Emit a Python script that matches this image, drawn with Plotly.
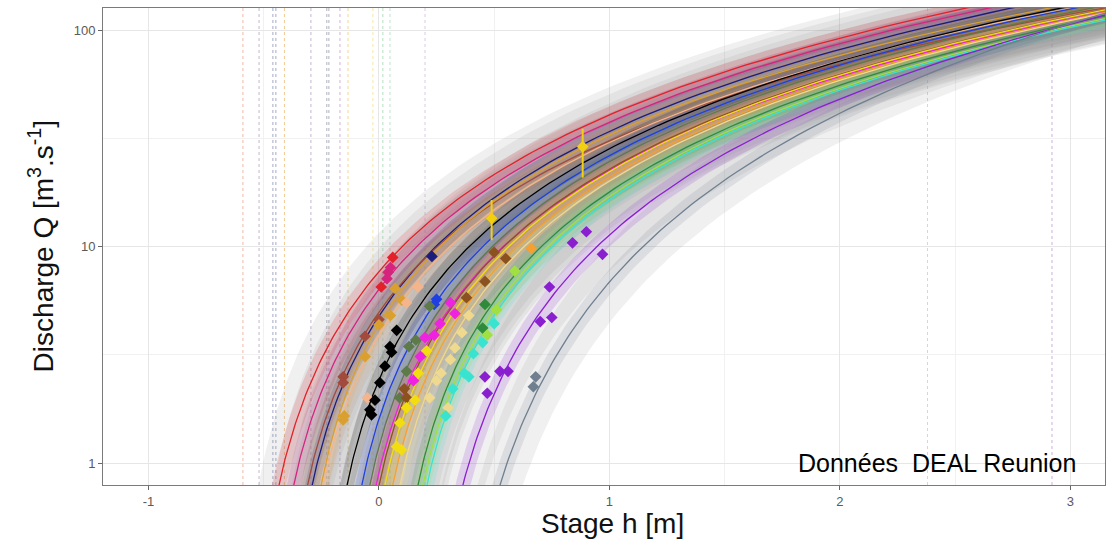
import numpy as np
import plotly.graph_objects as go

# ---- Rating curves Q = a * (h - b)^c, one per gauging station ----
curve_colors = ["#e3212b", "#d6247e", "#1c1c7c", "#a24a3c", "#d9a030", "#f4b48c",
                "#000000", "#1f3fe0", "#5e7a48", "#ee22e0", "#8b5220", "#f2de10",
                "#f5a030", "#efd98e", "#2e8b3a", "#a0e040", "#38e4d0", "#8a1fd0",
                "#6f7f8f"]
curve_a = [18.8, 18.9, 18.7, 17.4, 20.0, 17.95, 19.1, 19.4, 19.0, 17.9, 18.5, 18.7,
           18.5, 18.6, 18.8, 18.5, 18.4, 15.9, 12.9]
curve_b = [-0.584, -0.516, -0.437, -0.446, -0.375, -0.385, -0.277, -0.21, -0.177,
           -0.155, -0.139, -0.113, -0.080, -0.048, 0.031, 0.051, 0.068, 0.17, 0.26]
curve_c = [1.67, 1.65, 1.65, 1.55, 1.55, 1.6, 1.61, 1.6, 1.6, 1.6, 1.6, 1.6,
           1.6, 1.6, 1.6, 1.6, 1.6, 1.83, 2.1]

# ---- Gaugings (stage h [m], discharge Q [m3/s]) per station ----
gauge_h = [
    [0.06, 0.01],
    [0.05, 0.04, 0.035],
    [0.23],
    [-0.155, -0.155, -0.06, 0.0],
    [0.07, 0.10, 0.05, 0.0, -0.06, -0.155, -0.15],
    [0.17, 0.12, -0.05],
    [0.077, 0.048, 0.055, 0.026, 0.004, -0.017, -0.039, -0.032],
    [0.25, 0.24],
    [0.22, 0.13, 0.16, 0.12, 0.09],
    [0.15, 0.18, 0.20, 0.24, 0.265, 0.31, 0.33],
    [0.50, 0.55, 0.46, 0.38, 0.11, 0.12],
    [0.207, 0.156, 0.091, 0.077, 0.098, 0.17, 0.12],
    [0.66],
    [0.25, 0.27, 0.31, 0.33, 0.36, 0.39, 0.22, 0.30],
    [0.46, 0.45],
    [0.59, 0.51, 0.47],
    [0.29, 0.32, 0.37, 0.39, 0.41, 0.45, 0.50],
    [0.46, 0.47, 0.525, 0.56, 0.70, 0.75, 0.74, 0.84, 0.90, 0.97],
    [0.68, 0.67],
]
gauge_q = [
    [8.9, 6.5],
    [8.0, 7.6, 7.1],
    [9.0],
    [2.5, 2.35, 3.85, 4.6],
    [6.4, 5.65, 4.8, 4.35, 3.1, 1.58, 1.65],
    [6.5, 5.5, 2.0],
    [4.1, 3.45, 3.25, 2.8, 2.35, 1.95, 1.76, 1.67],
    [5.7, 5.4],
    [5.3, 3.45, 3.7, 2.65, 2.0],
    [2.4, 3.1, 3.8, 3.9, 4.4, 5.5, 4.9],
    [9.4, 8.8, 6.9, 5.8, 2.2, 2.0],
    [3.3, 1.95, 1.53, 1.19, 1.15, 2.6, 1.8],
    [9.8],
    [2.4, 2.6, 3.0, 3.4, 4.0, 4.8, 2.0, 1.8],
    [5.4, 4.2],
    [7.7, 5.1, 3.9],
    [1.65, 2.2, 2.6, 2.5, 3.2, 3.6, 4.4],
    [2.5, 2.1, 2.65, 2.65, 4.5, 4.7, 6.5, 10.4, 11.7, 9.2],
    [2.5, 2.25],
]

# High-flow gaugings with their uncertainty intervals
flood_h = [0.489, 0.884]
flood_q = [13.5, 28.9]
flood_q_low = [10.7, 20.8]
flood_q_high = [16.4, 35.0]
flood_color = "#f2d010"

# Offset (activation stage) markers
offset_marks = [-0.59, -0.52, -0.46, -0.447, -0.41, -0.295, -0.226, -0.217, -0.169,
                -0.134, -0.026, 0.017, 0.048, 0.20, 2.38, 2.92]
offset_colors = ["#f0b8a8", "#c4b6d2", "#a4aac4", "#a4aac4", "#f2c890", "#c4b6d2",
                 "#b0b0be", "#b0b0be", "#d0b4dc", "#f2d890", "#f2eaa8", "#b4e0c2",
                 "#bce4cc", "#dcc8e4", "#dcd0e6", "#ccb0dc"]

# Uncertainty envelopes: stage shift [m] and relative discharge spread
total_shift, total_rel = 0.07, 0.25
param_shift, param_rel = 0.025, 0.07

H_MAX = 3.3


def rgba(hex_color, alpha):
    h = hex_color.lstrip("#")
    r, g, b = int(h[0:2], 16), int(h[2:4], 16), int(h[4:6], 16)
    return f"rgba({r},{g},{b},{alpha})"


def envelope(a, b, c, shift, rel):
    hu = (b - shift) + np.geomspace(1e-4, H_MAX - (b - shift), 260)
    qu = a * (hu - (b - shift)) ** c * (1 + rel)
    hl = (b + shift) + np.geomspace(1e-4, H_MAX - (b + shift), 260)
    ql = a * (hl - (b + shift)) ** c / (1 + rel)
    return np.concatenate([hu, hl[::-1]]), np.concatenate([qu, ql[::-1]])


fig = go.Figure()

# total uncertainty (grey)
for a, b, c in zip(curve_a, curve_b, curve_c):
    x, y = envelope(a, b, c, total_shift, total_rel)
    fig.add_trace(go.Scatter(x=x, y=y, mode="lines", fill="toself",
                             fillcolor="rgba(150,150,150,0.14)",
                             line=dict(width=0), hoverinfo="skip", showlegend=False))

# parametric uncertainty (station colour)
for col, a, b, c in zip(curve_colors, curve_a, curve_b, curve_c):
    x, y = envelope(a, b, c, param_shift, param_rel)
    fig.add_trace(go.Scatter(x=x, y=y, mode="lines", fill="toself",
                             fillcolor=rgba(col, 0.16),
                             line=dict(width=0), hoverinfo="skip", showlegend=False))

# maximum a posteriori rating curves
for col, a, b, c in zip(curve_colors, curve_a, curve_b, curve_c):
    h = b + np.geomspace(1e-3, H_MAX - b, 300)
    fig.add_trace(go.Scatter(x=h, y=a * (h - b) ** c, mode="lines",
                             line=dict(color=col, width=1.3),
                             hoverinfo="skip", showlegend=False))

# gaugings
for col, hs, qs in zip(curve_colors, gauge_h, gauge_q):
    fig.add_trace(go.Scatter(x=hs, y=qs, mode="markers",
                             marker=dict(symbol="diamond", size=9, color=col,
                                         line=dict(width=0)),
                             showlegend=False))

fig.add_trace(go.Scatter(
    x=flood_h, y=flood_q, mode="markers",
    marker=dict(symbol="diamond", size=9, color=flood_color, line=dict(width=0)),
    error_y=dict(type="data", symmetric=False,
                 array=[hi - q for hi, q in zip(flood_q_high, flood_q)],
                 arrayminus=[q - lo for lo, q in zip(flood_q_low, flood_q)],
                 color=flood_color, thickness=2, width=0),
    showlegend=False))

# offset markers as dotted vertical lines
for xv, col in zip(offset_marks, offset_colors):
    fig.add_shape(type="line", x0=xv, x1=xv, y0=0, y1=1, xref="x", yref="paper",
                  line=dict(color=col, width=1, dash="dot"), layer="below")

FONT = "Liberation Sans, Arial, sans-serif"

fig.update_layout(
    width=1112, height=549,
    margin=dict(l=103, r=7, t=8, b=64),
    paper_bgcolor="white", plot_bgcolor="white",
    font=dict(family=FONT),
    xaxis=dict(range=[-1.197, 3.15], tickvals=[-1, 0, 1, 2, 3],
               ticktext=["-1", "0", "1", "2", "3"],
               showgrid=True, gridcolor="#e6e6e6", gridwidth=1,
               minor=dict(tickvals=[-0.5, 0.5, 1.5, 2.5], showgrid=True,
                          gridcolor="#f1f1f1", gridwidth=0.6, ticks=""),
               zeroline=False, showline=True, mirror=True, linecolor="#7a7a7a",
               linewidth=1, ticks="outside", ticklen=4, tickcolor="#666666",
               tickfont=dict(size=13, color="#5a5a5a", family=FONT)),
    yaxis=dict(type="log", range=[-0.1016, 2.1016], tickvals=[1, 10, 100],
               ticktext=["1", "10", "100"],
               showgrid=True, gridcolor="#e6e6e6", gridwidth=1,
               minor=dict(tickvals=[3.1623, 31.623], showgrid=True,
                          gridcolor="#f1f1f1", gridwidth=0.6, ticks=""),
               zeroline=False, showline=True, mirror=True, linecolor="#7a7a7a",
               linewidth=1, ticks="outside", ticklen=4, tickcolor="#666666",
               tickfont=dict(size=13, color="#5a5a5a", family=FONT)),
)

fig.add_annotation(text="Stage h [m]", xref="paper", yref="paper", x=0.508, y=-0.08,
                   xanchor="center", yanchor="middle", showarrow=False,
                   font=dict(size=28, color="#111111", family=FONT))
fig.add_annotation(text="Discharge Q [m<sup>3</sup>.s<sup>-1</sup>]", xref="paper",
                   yref="paper", x=-0.062, y=0.5, xanchor="center", yanchor="middle",
                   textangle=-90, showarrow=False,
                   font=dict(size=28, color="#111111", family=FONT))
fig.add_annotation(text="Données\u00a0 DEAL Reunion", xref="x", yref="y",
                   x=3.035, y=0.0, xanchor="right", yanchor="middle", showarrow=False,
                   font=dict(size=25, color="#000000", family=FONT))

fig.write_html("out.html")
